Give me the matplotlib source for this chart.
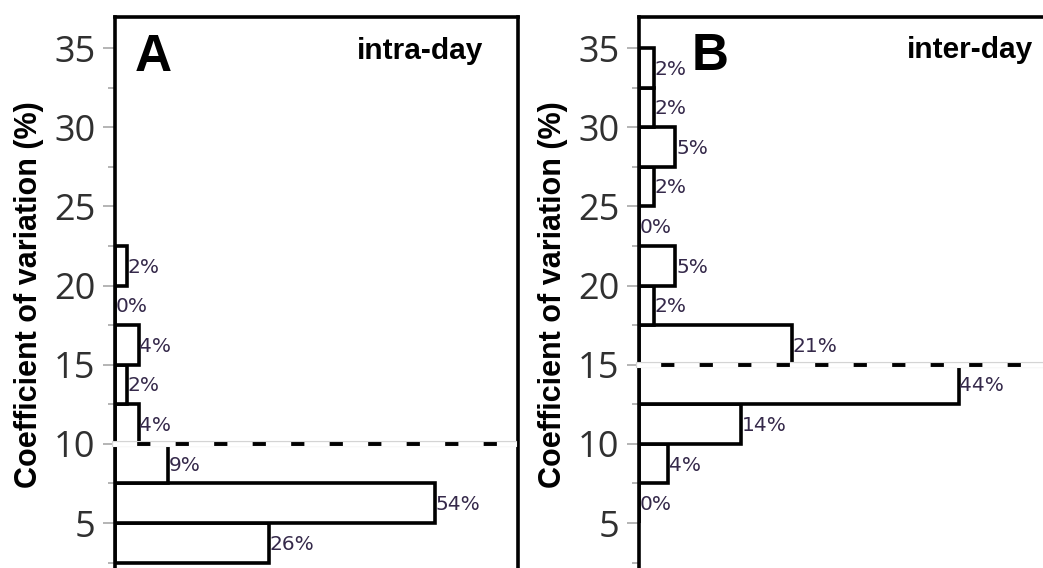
import matplotlib
matplotlib.use('Agg')
import matplotlib.pyplot as plt
from matplotlib.ticker import MultipleLocator, NullLocator

# lower edge of each 2.5 %-wide CV bin and share of analytes in it
intra_bins = [2.5, 5, 7.5, 10, 12.5, 15, 17.5, 20]
intra_pct = [26, 54, 9, 4, 2, 4, 0, 2]

inter_bins = [5, 7.5, 10, 12.5, 15, 17.5, 20, 22.5, 25, 27.5, 30, 32.5]
inter_pct = [0, 4, 14, 44, 21, 2, 5, 0, 2, 5, 2, 2]

intra_limit = 10
inter_limit = 15

BIN_WIDTH = 2.5
W, H = 1043, 568


def style_axis(ax, xmax, right_spine):
    ax.set_xlim(0, xmax)
    ax.set_ylim(2.16, 36.96)
    ax.xaxis.set_major_locator(NullLocator())
    ax.yaxis.set_major_locator(MultipleLocator(5))
    ax.yaxis.set_minor_locator(MultipleLocator(2.5))
    ax.tick_params(axis='y', which='major', length=9, width=1.2, color='#a8a8a8',
                   pad=5, labelsize=26, labelcolor='#303030')
    ax.tick_params(axis='y', which='minor', length=5, width=1.2, color='#a8a8a8')
    for lab in ax.get_yticklabels():
        lab.set_family('Open Sans')
    ax.spines['bottom'].set_visible(False)
    ax.spines['right'].set_visible(right_spine)
    for side in ['left', 'top', 'right']:
        ax.spines[side].set_linewidth(2.6)
        ax.spines[side].set_color('black')
    ax.set_ylabel('Coefficient of variation (%)', family='Liberation Sans',
                  fontweight='bold', fontsize=22)
    ax.yaxis.set_label_coords(-0.175, 0.497)


def draw_hist(ax, bins, pct):
    ax.barh(bins, pct, height=BIN_WIDTH, align='edge', color='white',
            edgecolor='black', linewidth=2.6, zorder=2)
    for y, p in zip(bins, pct):
        ax.annotate(f'{p}%', (p, y + BIN_WIDTH / 2), xytext=(0.5, -1),
                    textcoords='offset points', ha='left', va='center',
                    fontsize=14.5, color='#35294a', family='DejaVu Sans', zorder=5)


def draw_limit(ax, y, xspan):
    ax.axhline(y, xmin=0, xmax=xspan, color='#d4d4d4', lw=4.4, zorder=3, clip_on=False)
    ax.axhline(y, xmin=0, xmax=xspan, color='white', lw=3.4, zorder=3.1, clip_on=False)
    ax.axhline(y, xmin=0, xmax=xspan * 0.985, color='black', lw=2.8,
               linestyle=(4.2, (3.4, 6.5)), zorder=3.2, clip_on=False)


fig = plt.figure(figsize=(W / 100, H / 100), dpi=100)
ax_a = fig.add_axes([115 / W, 0, 403 / W, 551 / H])
ax_b = fig.add_axes([639 / W, 0, 407 / W, 551 / H])

draw_hist(ax_a, intra_bins, intra_pct)
style_axis(ax_a, 68, True)
draw_limit(ax_a, intra_limit, 0.99)
ax_a.text(0.05, 0.902, 'A', transform=ax_a.transAxes, family='Liberation Sans',
          fontweight='bold', fontsize=37, ha='left', va='baseline')
ax_a.text(0.913, 0.924, 'intra-day', transform=ax_a.transAxes, family='Liberation Sans',
          fontweight='bold', fontsize=21.5, ha='right', va='baseline')

draw_hist(ax_b, inter_bins, inter_pct)
style_axis(ax_b, 56, False)
draw_limit(ax_b, inter_limit, 1.0)
ax_b.text(0.130, 0.904, 'B', transform=ax_b.transAxes, family='Liberation Sans',
          fontweight='bold', fontsize=37, ha='left', va='baseline')
ax_b.text(0.968, 0.926, 'inter-day', transform=ax_b.transAxes, family='Liberation Sans',
          fontweight='bold', fontsize=21.5, ha='right', va='baseline')

fig.savefig('out.png', dpi=100)
